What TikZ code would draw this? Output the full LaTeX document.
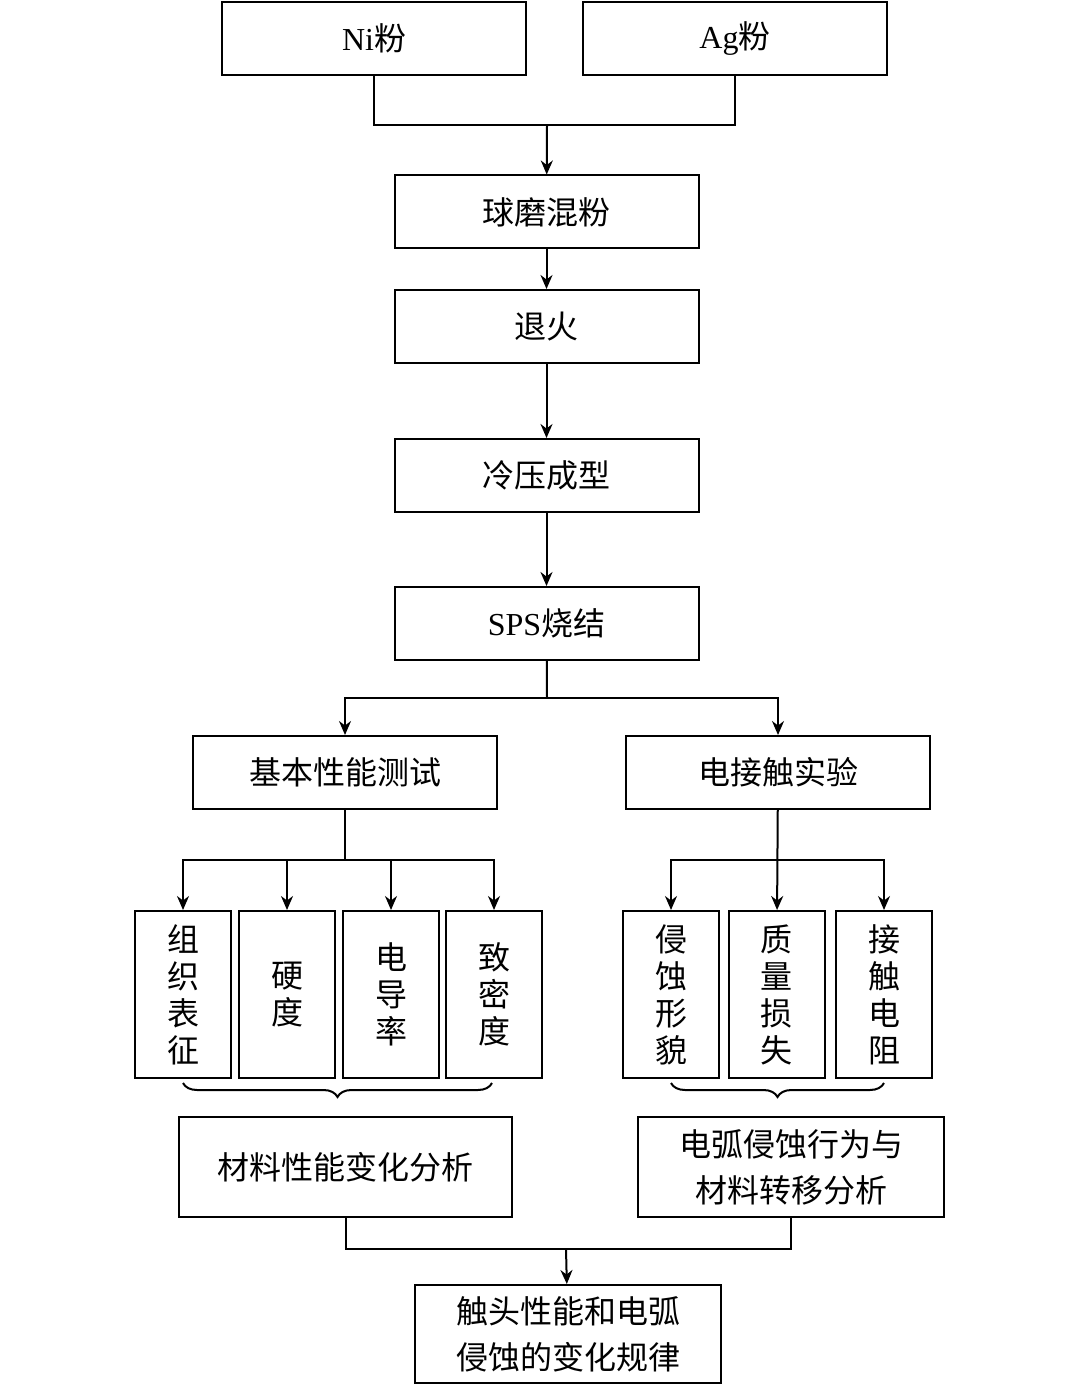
\documentclass[tikz,border=0pt]{standalone}
\usepackage{fontspec}
\setmainfont{Liberation Serif}
\newfontfamily\cjk{Noto Sans CJK SC}
\usetikzlibrary{arrows.meta,positioning,decorations.pathreplacing}

\begin{document}
\begin{tikzpicture}[
	x=0.5pt, y=-0.5pt,
	> = {Stealth[length=7pt,width=6pt]}, % arrow head style
	line width=1pt,
	B/.style={draw=black, minimum width=152pt, minimum height=36.5pt, inner sep=0pt, font=\fontsize{16}{20}\selectfont\cjk},
	S/.style={draw=black, minimum width=48pt, minimum height=83.5pt, inner sep=0pt, align=center, font=\fontsize{16}{18.5}\selectfont\cjk},
	T/.style={B, minimum height=50pt, align=center, font=\fontsize{16}{23}\selectfont\cjk},
	]
	\useasboundingbox (0,0) rectangle (1080,1385);

	% Process chain
	\node[B] (ni) at (374,38.5) {\rmfamily Ni\cjk 粉};
	\node[B] (ag) at (735,38.5) {\rmfamily Ag\cjk 粉};
	\node[B] (mix) at (546.5,212) {球磨混粉};
	\node[B] (ann) at (546.5,326.5) {退火};
	\node[B] (cold) at (546.5,475.5) {冷压成型};
	\node[B] (sps) at (546.5,623.5) {\rmfamily SPS\cjk 烧结};
	\node[B] (basic) at (345,772.5) {基本性能测试};
	\node[B] (elec) at (778,772.5) {电接触实验};

	% Test items
	\node[S] (s1) at (183,994.5) {组\\织\\表\\征};
	\node[S] (s2) at (287,994.5) {硬\\度};
	\node[S] (s3) at (391,994.5) {电\\导\\率};
	\node[S] (s4) at (494,994.5) {致\\密\\度};
	\node[S] (e1) at (671,994.5) {侵\\蚀\\形\\貌};
	\node[S] (e2) at (776.5,994.5) {质\\量\\损\\失};
	\node[S] (e3) at (884,994.5) {接\\触\\电\\阻};

	% Analysis
	\node[T, minimum width=166.5pt] (mat) at (345.5,1167) {材料性能变化分析};
	\node[T, minimum width=153pt] (arc) at (791,1167) {电弧侵蚀行为与\\材料转移分析};
	\node[T, minimum width=153pt, minimum height=49pt] (res) at (568,1334) {触头性能和电弧\\侵蚀的变化规律};

	% Junctions
	\coordinate (j1) at (547,125);
	\coordinate (j2) at (547,698);
	\coordinate (j3) at (345,860);
	\coordinate (j4) at (778,860);
	\coordinate (j5) at (566,1249);

	% Paths connecting nodes
	\draw (ni.south) |- (j1) -| (ag.south);
	\draw[->] (j1) -- (mix);
	\draw[->] (mix) -- (ann);
	\draw[->] (ann) -- (cold);
	\draw[->] (cold) -- (sps);
	\draw (sps) -- (j2);
	\draw[->] (j2) -| (basic);
	\draw[->] (j2) -| (elec);
	\draw (basic) -- (j3);
	\draw[->] (j3) -| (s1);
	\draw[->] (j3) -| (s2);
	\draw[->] (j3) -| (s3);
	\draw[->] (j3) -| (s4);
	\draw[->] (elec) -- (e2);
	\draw[->] (j4) -| (e1);
	\draw[->] (j4) -| (e3);
	\draw (mat.south) |- (j5) -| (arc.south);
	\draw[->] (j5) -- (res);

	% Braces
	\draw[decorate, decoration={brace, mirror, amplitude=7pt}] (183,1083) -- (492,1083);
	\draw[decorate, decoration={brace, mirror, amplitude=7pt}] (671,1083) -- (884,1083);
\end{tikzpicture}
\end{document}
